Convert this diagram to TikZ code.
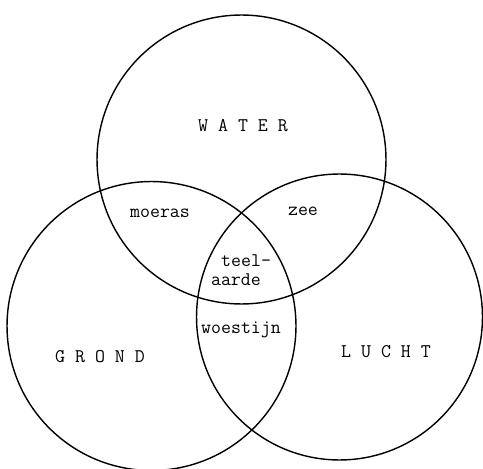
\documentclass[tikz,border=0pt]{standalone}
\usepackage{tikz}
\usetikzlibrary{positioning}
\tikzset{ring/.style={draw, circle, line width=0.8pt, inner sep=0pt},
  lab/.style={font=\ttfamily\fontsize{11}{11}\selectfont, inner sep=0pt}}

\begin{document}
\begin{tikzpicture}[x=0.02cm,y=-0.02cm]
\useasboundingbox (0,0) rectangle (483,469);
% de drie cirkels
\node[ring, minimum size=5.78cm] (water) at (241.5,159.5) {};
\node[ring, minimum size=5.78cm] (grond) at (151.5,326) {};
\node[ring, minimum size=5.72cm] (lucht) at (339.5,317) {};
% namen
\node[lab] (wlab) at (243,126) {W A T E R};
\node[lab] (glab) at (100,357) {G R O N D};
\node[lab] (llab) at (386,352) {L U C H T};
% overlappingen
\node[lab] (moeras) at (160,213) {moeras};
\node[lab] (zee) at (303,211) {zee};
\node[lab, align=left] (teelaarde) at (241,270) {\hspace{0.525em}teel-\\aarde};
\node[lab] (woestijn) at (241,330) {woestijn};
\end{tikzpicture}
\end{document}
